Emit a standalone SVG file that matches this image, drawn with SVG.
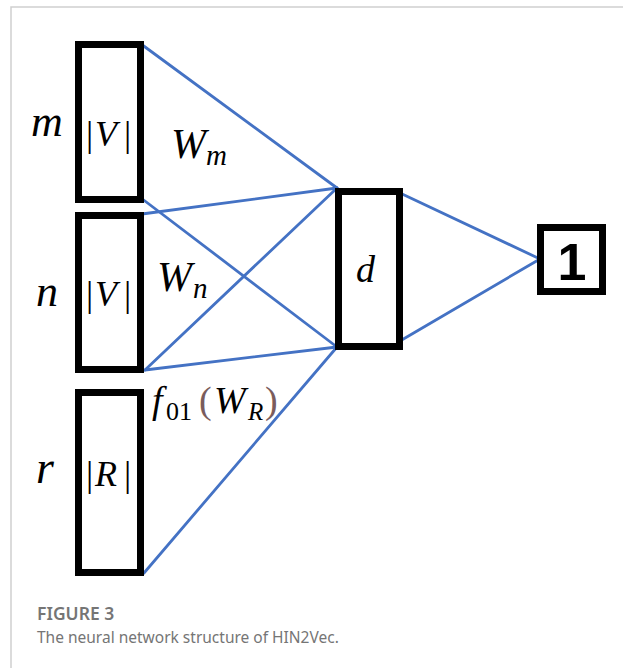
<svg xmlns="http://www.w3.org/2000/svg" width="623" height="668" viewBox="0 0 623 668">
<style>
.box{fill:#fff;stroke:#000;stroke-width:7}
.ln{stroke:#4472C4;stroke-width:2.8;fill:none;stroke-linecap:round}
.mi{font-family:"Liberation Serif","DejaVu Serif",serif;font-style:italic;fill:#000}
.up{font-style:normal}
.br{fill:#7a5c5c}
.cap{font-family:"Noto Sans","Open Sans",sans-serif;fill:#757575}
</style>
<rect width="623" height="668" fill="#fff"/>
<path d="M11 668V7H623" fill="none" stroke="#cfcfcf" stroke-width="1.5"/>
<g id="connectors">
<line class="ln" x1="141" y1="44" x2="337" y2="188"/>
<line class="ln" x1="141" y1="198" x2="337" y2="347"/>
<line class="ln" x1="142" y1="214" x2="337" y2="188"/>
<line class="ln" x1="145" y1="370" x2="337" y2="188"/>
<line class="ln" x1="145" y1="370" x2="337" y2="347"/>
<line class="ln" x1="144" y1="573" x2="337" y2="347"/>
<line class="ln" x1="400" y1="193" x2="540" y2="259"/>
<line class="ln" x1="400" y1="341" x2="540" y2="259"/>
</g>
<g id="node-m">
<rect class="box" x="78.5" y="44.5" width="62" height="155"/>
<text class="mi" x="31" y="136" font-size="44">m</text>
<text class="mi" y="146" font-size="36"><tspan class="up" x="86">|</tspan><tspan x="95">V</tspan><tspan class="up" x="124">|</tspan></text>
</g>
<g id="label-wm">
<text class="mi" x="171" y="158" font-size="42">W</text>
<text class="mi" x="206" y="165" font-size="29">m</text>
</g>
<g id="node-n">
<rect class="box" x="78.5" y="215.5" width="62" height="154"/>
<text class="mi" x="36" y="306" font-size="44">n</text>
<text class="mi" y="306" font-size="36"><tspan class="up" x="86">|</tspan><tspan x="95">V</tspan><tspan class="up" x="124">|</tspan></text>
</g>
<g id="label-wn">
<text class="mi" x="157" y="291" font-size="42">W</text>
<text class="mi" x="193" y="298" font-size="29">n</text>
</g>
<g id="node-r">
<rect class="box" x="78.5" y="392.5" width="62" height="180"/>
<text class="mi" x="36" y="483" font-size="46">r</text>
<text class="mi" y="486" font-size="36"><tspan class="up" x="86">|</tspan><tspan x="95">R</tspan><tspan class="up" x="124">|</tspan></text>
</g>
<g id="label-wr">
<text class="mi" x="152" y="413" font-size="38">f</text>
<text class="mi up" x="166" y="420" font-size="26">01</text>
<text class="mi up br" x="199" y="413" font-size="38">(</text>
<text class="mi" x="214" y="413" font-size="38">W</text>
<text class="mi" x="248" y="420" font-size="25">R</text>
<text class="mi up br" x="265" y="413" font-size="38">)</text>
</g>
<g id="node-d">
<rect class="box" x="338.5" y="191.5" width="61" height="155"/>
<text class="mi" x="356" y="282" font-size="38">d</text>
</g>
<g id="node-1">
<rect class="box" x="540.5" y="227.5" width="62" height="64"/>
<text x="572" y="280" font-size="52" font-weight="bold" text-anchor="middle" font-family="'Liberation Sans',Arial,sans-serif" fill="#000">1</text>
</g>
<g id="caption">
<text class="cap" x="37" y="620" font-size="17.5" font-weight="600">FIGURE 3</text>
<text class="cap" x="37" y="643" font-size="15.5">The neural network structure of HIN2Vec.</text>
</g>
</svg>
